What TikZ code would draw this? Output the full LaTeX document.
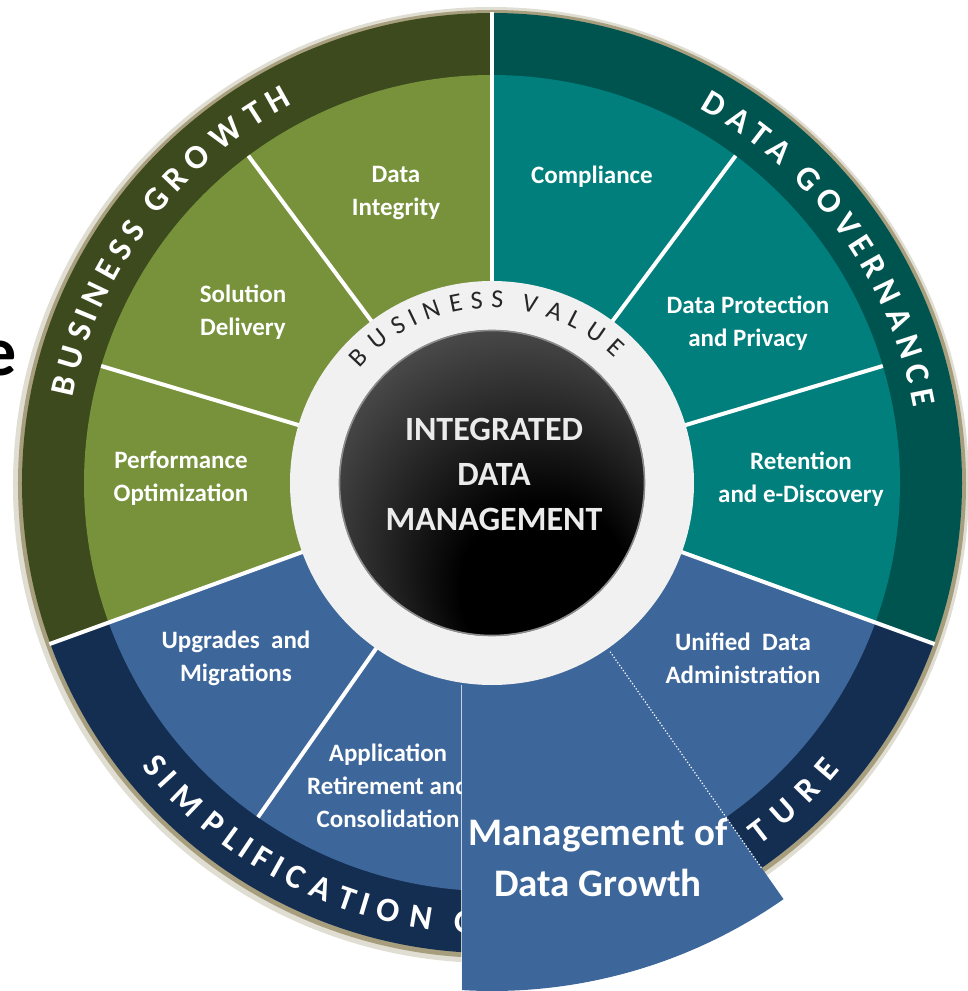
\documentclass[tikz,border=0pt]{standalone}
\usepackage{fontspec}
\setmainfont{Carlito}
\usetikzlibrary{decorations.text}
\definecolor{growthband}{HTML}{3C4A1E}
\definecolor{growthfill}{HTML}{77923B}
\definecolor{governband}{HTML}{00544F}
\definecolor{governfill}{HTML}{007F7C}
\definecolor{simpleband}{HTML}{142E52}
\definecolor{simplefill}{HTML}{3D679B}
\definecolor{valuering}{HTML}{F1F1F1}
\definecolor{rimshadow}{HTML}{A79E7E}
\newcommand{\bandfont}{\fontsize{17}{17}\selectfont\bfseries}
\newcommand{\valuefont}{\fontsize{13}{13}\selectfont}
\pgfdeclareradialshading{hubshade}{\pgfpoint{12bp}{-24bp}}{color(0bp)=(black); color(14bp)=(black); color(40bp)=(black!62); color(50bp)=(black!68)}
\tikzset{
  segtext/.style={text=white, align=center, font=\fontsize{12.5}{16.5}\selectfont\bfseries, inner sep=0pt},
  hubtext/.style={text=black!8, align=center, font=\fontsize{17}{22.5}\selectfont\bfseries, inner sep=0pt},
  divider/.style={white, line width=2pt},
  bandtext/.style={decorate, decoration={text effects along path, text={#1},
      text effects/.cd, fit text to path, characters={text along path, text=white, font=\bandfont}}},
  valuetext/.style={decorate, decoration={text effects along path, text={#1},
      text effects/.cd, fit text to path, characters={text along path, text=black!85, font=\valuefont}}},
}
\begin{document}
\begin{tikzpicture}[x=0.5pt, y=0.5pt]
    \useasboundingbox (-492,-508) rectangle (476,483);
    % rim shadow
    \fill[rimshadow!35] (-1,-2) circle (478);
    \fill[rimshadow] (0,-1) circle (474);
    % outer bands
    \fill[growthband] (0,0) -- (90:470) arc[start angle=90, end angle=200, radius=470] -- cycle;
    \fill[simpleband] (0,0) -- (200:470) arc[start angle=200, end angle=340, radius=470] -- cycle;
    \fill[governband] (0,0) -- (-20:470) arc[start angle=-20, end angle=90, radius=470] -- cycle;
    % inner segments
    \fill[growthfill] (0,0) -- (90:408) arc[start angle=90, end angle=200, radius=408] -- cycle;
    \fill[simplefill] (0,0) -- (200:408) arc[start angle=200, end angle=340, radius=408] -- cycle;
    \fill[governfill] (0,0) -- (-20:408) arc[start angle=-20, end angle=90, radius=408] -- cycle;
    % dividers
    \foreach \a in {90,200,340}
        \draw[divider] (\a:200) -- (\a:471);
    \foreach \a in {126.67,163.33,53.33,16.67,235}
        \draw[divider] (\a:200) -- (\a:408);
    % value ring and hub
    \fill[valuering] (0,0) circle (202);
    \shade[shading=hubshade] (0,0) circle (153);
    \draw[black!45, line width=0.8pt] (0,0) circle (152.5);
    \node[hubtext] (hub) at (2,9) {INTEGRATED\\DATA\\MANAGEMENT};
    % texts along the rings
    \path[valuetext={BUSINESS VALUE}] (139:175) arc[start angle=139, end angle=45.5, radius=175];
    \path[bandtext={BUSINESS GROWTH}] (168.5:428) arc[start angle=168.5, end angle=117.8, radius=428];
    \path[bandtext={DATA GOVERNANCE}] (61:428) arc[start angle=61, end angle=10.2, radius=428];
    \path[bandtext={SIMPLIFICATION O}] (219:451) arc[start angle=219, end angle=268, radius=451];
    \path[bandtext={CTURE}] (302.8:451) arc[start angle=302.8, end angle=320.5, radius=451];
    % segment labels
    \node[segtext] (integrity) at (-96,290) {Data\\Integrity};
    \node[segtext] (delivery) at (-249,171) {Solution\\Delivery};
    \node[segtext] (performance) at (-311,5) {Performance\\Optimization};
    \node[segtext] (compliance) at (100,306) {Compliance};
    \node[segtext] (protection) at (256,160) {Data Protection\\and Privacy};
    \node[segtext] (retention) at (309,4) {Retention\\and e-Discovery};
    \node[segtext] (upgrades) at (-256,-175) {Upgrades\ \ and\\Migrations};
    \node[segtext] (retirement) at (-104,-303) {Application\\Retirement and\\Consolidation};
    \node[segtext] (unified) at (251,-175) {Unified\ \ Data\\Administration};
    % pulled-out segment
    \fill[simplefill] (-30,-201.8) -- (-30,-507.1) arc[start angle=266.6, end angle=305, radius=508] -- (305:204) arc[start angle=305, end angle=261.5, radius=204] -- cycle;
    \draw[white, opacity=0.7, line width=0.5pt] (-30,-201.8) -- (-30,-507.1);
    \draw[white, line width=0.6pt, densely dotted] (305:206) -- (305:470);
    \node[segtext, font=\fontsize{19.5}{25.5}\selectfont\bfseries] (growth) at (106,-375) {Management of\\Data Growth};
    % cut-off word at the left edge
    \node[font=\fontsize{35}{35}\selectfont\bfseries, anchor=base east, inner sep=0pt] (cutword) at (-475,108) {e};
\end{tikzpicture}
\end{document}
